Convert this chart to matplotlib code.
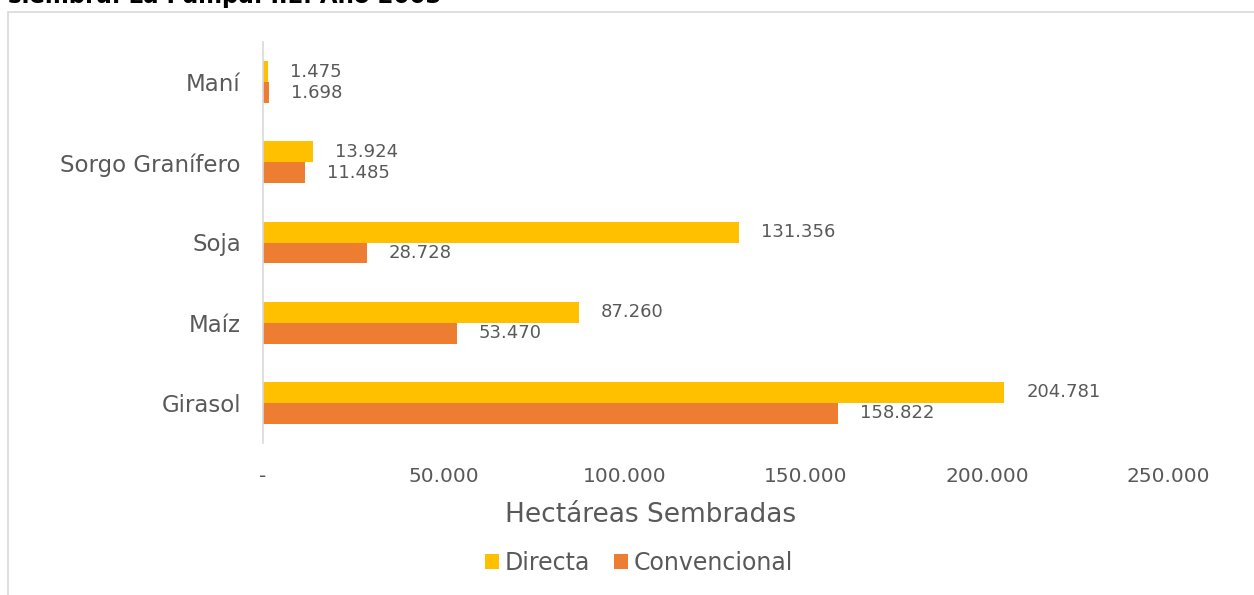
import matplotlib
matplotlib.use("Agg")
import matplotlib.pyplot as plt
from matplotlib.patches import Rectangle
import numpy as np

cultivos = ["Girasol", "Maíz", "Soja", "Sorgo Granífero", "Maní"]
directa = [204781, 87260, 131356, 13924, 1475]
convencional = [158822, 53470, 28728, 11485, 1698]
xticks = [0, 50000, 100000, 150000, 200000, 250000]

gray = "#595959"
amarillo = "#FFC000"
naranja = "#ED7D31"

plt.rcParams['font.family'] = ['DejaVu Sans']

def miles(v):
    return "{:,}".format(v).replace(",", ".") if v else "-"

fig = plt.figure(figsize=(12.54, 5.95), dpi=100)
ax = fig.add_axes([263/1254, 1-443/595, 905/1254, 401/595])

# marco del grafico y titulo recortado
fig.patches.append(Rectangle((8/1254, -0.1), 1.2, 1-12/595+0.1, transform=fig.transFigure,
                             fill=False, edgecolor="#D9D9D9", lw=1.2))
fig.text(8/1254, 1-3/595, "siembra. La Pampa. IIE. Año 2003", fontsize=16.5,
         fontweight="bold", color="black", va="baseline", ha="left")

y = np.arange(len(cultivos))
h = 0.26
ax.barh(y + h/2, directa, height=h, color=amarillo, label="Directa")
ax.barh(y - h/2, convencional, height=h, color=naranja, label="Convencional")

off = 22 * 250000 / 905
for i in range(len(cultivos)):
    ax.text(directa[i] + off, y[i] + h/2, miles(directa[i]), va="center", ha="left",
            fontsize=13, color=gray)
    ax.text(convencional[i] + off, y[i] - h/2, miles(convencional[i]), va="center", ha="left",
            fontsize=13, color=gray)

ax.set_xlim(0, 250000)
ax.set_ylim(-0.5, len(cultivos) - 0.5)
ax.set_yticks(y)
ax.set_yticklabels(cultivos, fontsize=16.5, color=gray)
ax.set_xticks(xticks)
ax.set_xticklabels([miles(v) for v in xticks], fontsize=14.5, color=gray)
ax.tick_params(axis="both", length=0)
ax.tick_params(axis="x", pad=17)
ax.tick_params(axis="y", pad=16)
for s in ["top", "right", "bottom"]:
    ax.spines[s].set_visible(False)
ax.spines["left"].set_color("#D9D9D9")
ax.spines["left"].set_linewidth(1.2)

fig.text(651/1254, 1-515/595, "Hectáreas Sembradas", fontsize=19, color=gray,
         ha="center", va="center")

leg = fig.legend(loc="center", bbox_to_anchor=(639/1254, 1-563/595), ncol=2, frameon=False,
                 fontsize=17, handlelength=0.6, handleheight=0.6, handletextpad=0.25,
                 columnspacing=1.0, labelcolor=gray)

fig.savefig("out.png", dpi=100)
